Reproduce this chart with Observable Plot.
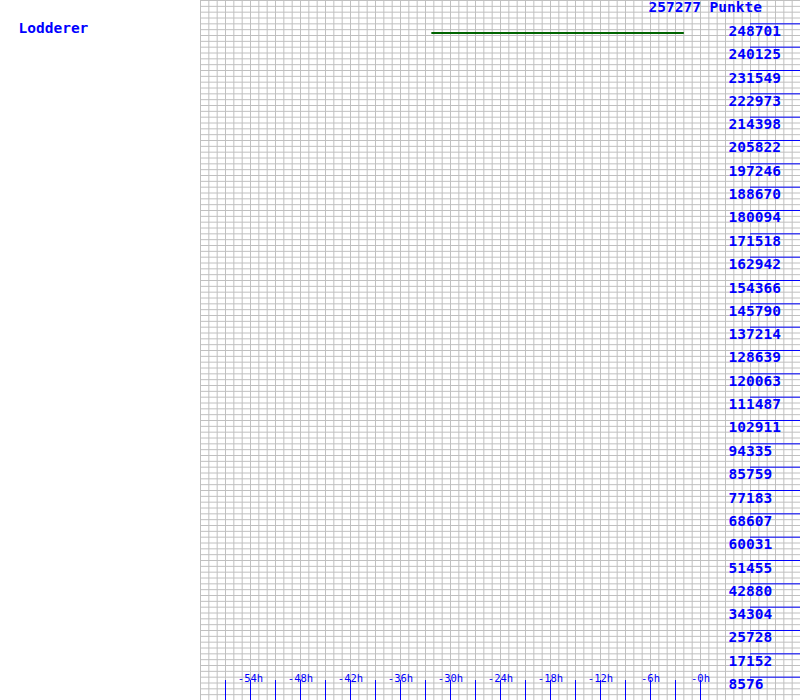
<!DOCTYPE html>
<html>
<head>
<meta charset="utf-8">
<script src="https://cdn.jsdelivr.net/npm/d3@7"></script>
<script src="https://cdn.jsdelivr.net/npm/@observablehq/plot@0.6"></script>
<style>
  html, body { margin: 0; padding: 0; background: #fff; }
  #chart { width: 800px; height: 700px; }
</style>
</head>
<body>
<div id="chart"></div>
<script>
// ---- data ----
const playerName = "Lodderer";
const maxPoints = 257277;
const yTickLabels = [8576, 17152, 25728, 34304, 42880, 51455, 60031, 68607, 77183, 85759,
  94335, 102911, 111487, 120063, 128639, 137214, 145790, 154366, 162942, 171518,
  180094, 188670, 197246, 205822, 214398, 222973, 231549, 240125, 248701];
const xTickHours = [-57, -54, -51, -48, -45, -42, -39, -36, -33, -30, -27, -24, -21, -18, -15, -12, -9, -6, -3, 0];
const xLabelHours = [-54, -48, -42, -36, -30, -24, -18, -12, -6, 0];
const lineHours = [-32.3, -2];
const linePoints = [245300, 245300];

// ---- styling ----
const blue = "#0000ff";
const gridColor = "#c0c0c0";
const mono = "DejaVu Sans Mono, monospace";

const series = lineHours.map((h, i) => ({h, p: linePoints[i]}));
const gridHours = d3.range(-60, 13, 1);
const gridPoints = d3.range(0, 121).map(k => k * maxPoints / 120);

const chart = Plot.plot({
  width: 800,
  height: 700,
  marginLeft: 200,
  marginRight: 0,
  marginTop: 0,
  marginBottom: 0,
  x: {domain: [-60, 12], label: null},
  y: {domain: [0, maxPoints], label: null},
  style: {background: "#fff", fontFamily: mono, color: blue},
  marks: [
    Plot.gridX(gridHours, {stroke: gridColor, strokeOpacity: 1}),
    Plot.gridY(gridPoints, {stroke: gridColor, strokeOpacity: 1}),
    // x ticks (short rules rising from the bottom edge)
    Plot.ruleX(xTickHours, {x: d => d, insetTop: 680, stroke: blue, strokeWidth: 1}),
    // x labels
    Plot.axisX(xLabelHours, {anchor: "bottom", label: null, tickSize: 0, tickPadding: 0, dy: -19, lineAnchor: "bottom",
      tickFormat: d => `-${Math.abs(d)}h`, fontSize: 10.5, fill: blue}),
    // y ticks (right side, inward)
    Plot.axisY(yTickLabels, {anchor: "right", label: null, tickSize: 51, dx: -51, tickFormat: () => "", stroke: blue}),
    // y labels
    Plot.axisY(yTickLabels, {anchor: "right", label: null, tickSize: 0, tickPadding: 0, dx: -72, dy: 12,
      textAnchor: "start", lineAnchor: "bottom", tickFormat: d => String(d),
      fontSize: 14.5, fontWeight: "bold", fill: blue}),
    // max points title
    Plot.text([maxPoints], {y: d => d, frameAnchor: "right", text: d => `${d} Punkte`,
      textAnchor: "start", lineAnchor: "bottom", dx: -152, dy: 11,
      fontSize: 14.5, fontWeight: "bold", fill: blue}),
    // player name
    Plot.text([playerName], {frameAnchor: "top-left", text: d => d, textAnchor: "start",
      lineAnchor: "bottom", dx: -182, dy: 32, fontSize: 14.5, fontWeight: "bold", fill: blue}),
    // score line
    Plot.line(series, {x: "h", y: "p", stroke: "#006400", strokeWidth: 2, strokeLinecap: "butt"})
  ]
});
document.getElementById("chart").append(chart);
</script>
</body>
</html>
